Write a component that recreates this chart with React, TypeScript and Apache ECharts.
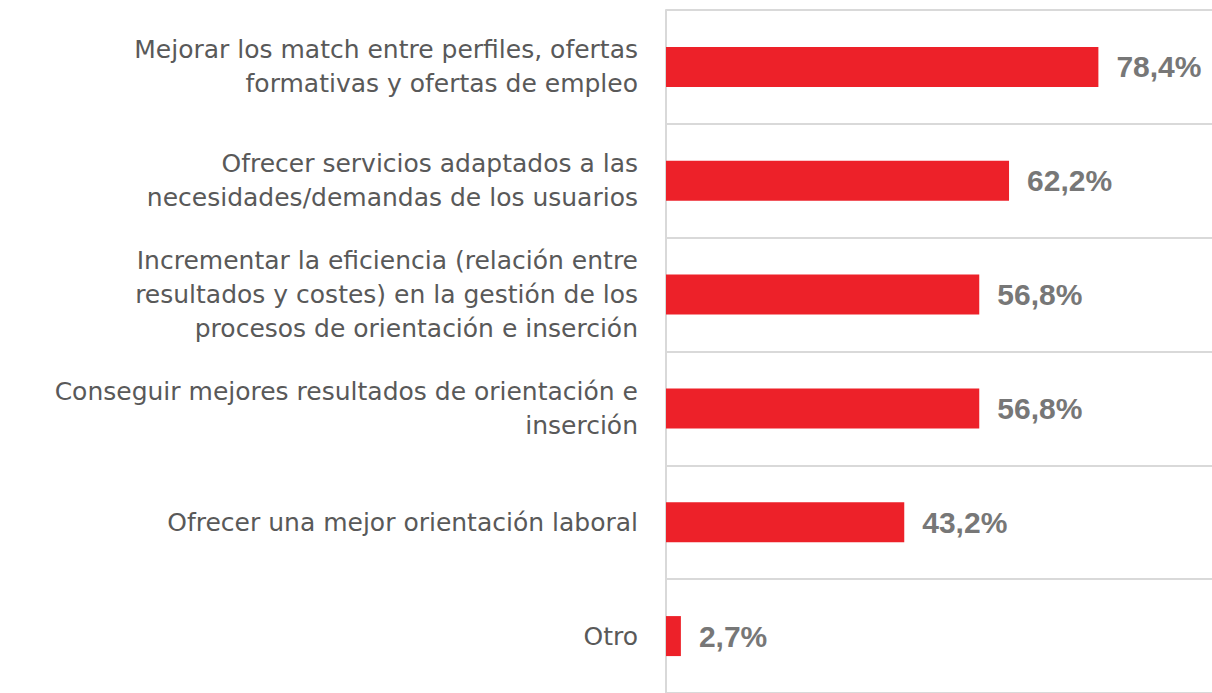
import React, { useEffect, useRef } from "react";
import * as echarts from "echarts";

const categories: string[] = [
  "Mejorar los match entre perfiles, ofertas\nformativas y ofertas de empleo",
  "Ofrecer servicios adaptados a las\nnecesidades/demandas de los usuarios",
  "Incrementar la eficiencia (relación entre\nresultados y costes) en la gestión de los\nprocesos de orientación e inserción",
  "Conseguir mejores resultados de orientación e\ninserción",
  "Ofrecer una mejor orientación laboral",
  "Otro",
];
const values: number[] = [78.4, 62.2, 56.8, 56.8, 43.2, 2.7];

export default function App() {
  const ref = useRef<HTMLDivElement>(null);
  useEffect(() => {
    if (!ref.current) return;
    const chart = echarts.init(ref.current, undefined, { renderer: "svg" });
    chart.setOption({
      animation: false,
      backgroundColor: "#ffffff",
      grid: { left: 666, top: 10, right: 0, bottom: -1, containLabel: false },
      xAxis: {
        type: "value",
        min: 0,
        max: 99,
        show: false,
        splitLine: { show: false },
      },
      yAxis: {
        type: "category",
        inverse: true,
        data: categories,
        axisLine: { show: true, lineStyle: { color: "#d9d9d9", width: 2 } },
        axisTick: { show: false },
        splitLine: { show: true, lineStyle: { color: "#d9d9d9", width: 2 } },
        axisLabel: {
          margin: 28,
          color: "#595959",
          fontFamily: "DejaVu Sans",
          fontSize: 25,
          lineHeight: 34,
          align: "right",
        },
      },
      series: [
        {
          type: "bar",
          data: values,
          barWidth: 40,
          itemStyle: { color: "#ED2129" },
          label: {
            show: true,
            position: "right",
            distance: 18,
            color: "#777777",
            fontFamily: "Liberation Sans",
            fontWeight: "bold",
            fontSize: 30,
            formatter: (p: any) => String(p.value).replace(".", ",") + "%",
          },
        },
      ],
    });
    return () => chart.dispose();
  }, []);
  return (
    <div
      ref={ref}
      style={{ position: "fixed", left: 0, top: 0, width: 1212, height: 693, background: "#fff" }}
    />
  );
}
